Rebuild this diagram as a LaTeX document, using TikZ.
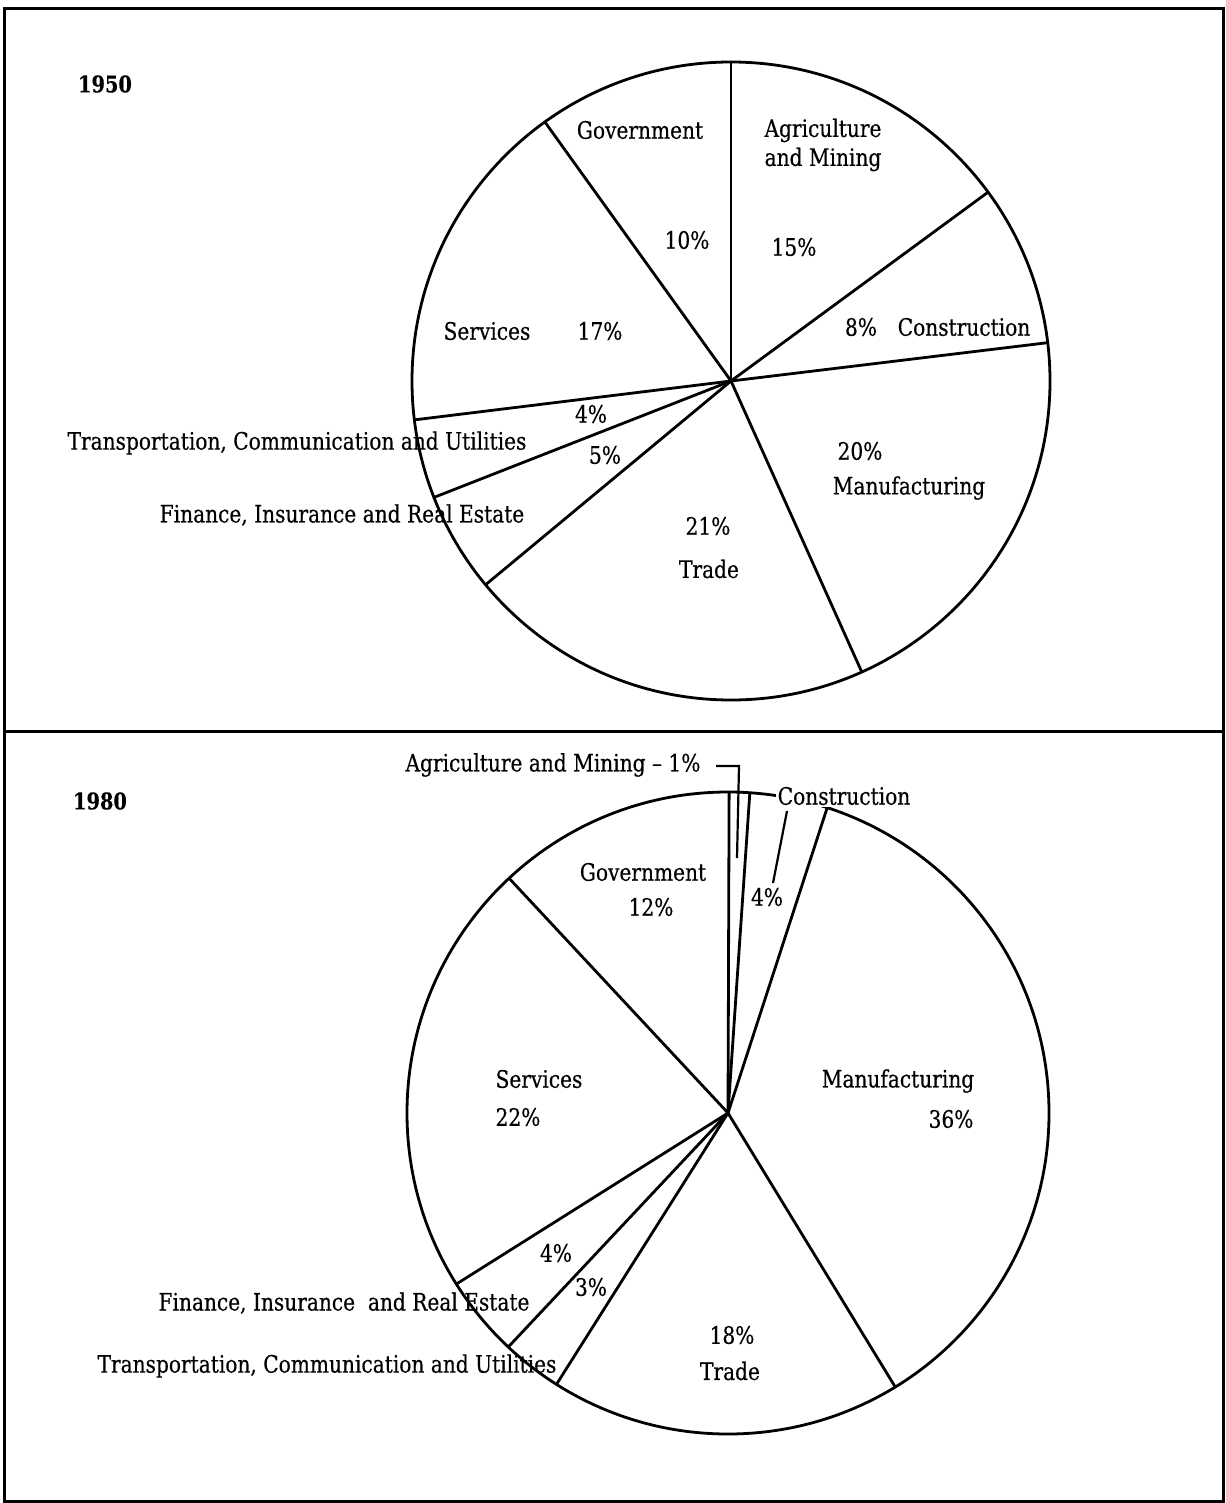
\documentclass[tikz,border=0pt]{standalone}
\usepackage{fontspec}
\setmainfont{DejaVu Serif}[FakeStretch=0.84, FakeBold=0.35]
\newcommand\lbl{\fontsize{12}{14.5}\selectfont}
\newcommand\yrfont{\fontsize{11.5}{14}\selectfont\bfseries}
\begin{document}
\begin{tikzpicture}[x=0.5pt,y=-0.5pt,
  txt/.style={font=\lbl, inner sep=0pt, anchor=center},
  yr/.style={font=\yrfont, inner sep=0pt, anchor=center},
  frame/.style={line width=1.5pt},
  pie/.style={line width=1.4pt},
  leader/.style={line width=1.1pt}]
\useasboundingbox (0,0) rectangle (1225,1503);
% frame
\draw[frame] (4,9) rectangle (1223,1501);
\draw[frame] (4,731) -- (1223,731);

% ---------- 1950 ----------
\begin{scope}[shift={(731,381)}, yscale=-1]
  \coordinate (c50) at (0,0);
  \draw[pie] (c50) circle[radius=319];
  \coordinate (p50a) at (90:319);
  \coordinate (p50b) at (36.3:319);
  \coordinate (p50c) at (6.9:319);
  \coordinate (p50d) at (-65.8:319);
  \coordinate (p50e) at (219.7:319);
  \coordinate (p50f) at (201.4:319);
  \coordinate (p50g) at (187:319);
  \coordinate (p50h) at (125.7:319);
  \foreach \p in {a,b,c,d,e,f,g,h} \draw[pie] (c50) -- (p50\p);
\end{scope}
\node[yr] (y50) at (105,84) {1950};
\node[txt] (gov50) at (640,130) {Government};
\node[txt, align=center] (agr50) at (823,145) {Agriculture\\and Mining};
\node[txt] (gp50) at (687,240) {10\%};
\node[txt] (ap50) at (794,247) {15\%};
\node[txt] (cp50) at (861,327) {8\%};
\node[txt] (con50) at (964,327) {Construction};
\node[txt] (ser50) at (487,331) {Services};
\node[txt] (sp50) at (600,331) {17\%};
\node[txt] (tp50) at (591,414) {4\%};
\node[txt] (tra50) at (297,443) {Transportation, Communication and Utilities};
\node[txt] (fp50) at (605,455) {5\%};
\node[txt] (fin50) at (342,515) {Finance, Insurance and Real Estate};
\node[txt] (mp50) at (860,451) {20\%};
\node[txt] (man50) at (909,488) {Manufacturing};
\node[txt] (trp50) at (708,526) {21\%};
\node[txt] (trd50) at (709,569) {Trade};

% ---------- 1980 ----------
\begin{scope}[shift={(728,1113)}, yscale=-1]
  \coordinate (c80) at (0,0);
  \draw[pie] (c80) circle[radius=321];
  \coordinate (p80a) at (89.8:321);
  \coordinate (p80b) at (86.1:321);
  \coordinate (p80c) at (72:321);
  \coordinate (p80d) at (-58.6:321);
  \coordinate (p80e) at (237.7:321);
  \coordinate (p80f) at (226.8:321);
  \coordinate (p80g) at (212.2:321);
  \coordinate (p80h) at (133:321);
  \foreach \p in {a,b,c,d,e,f,g,h} \draw[pie] (c80) -- (p80\p);
\end{scope}
\node[yr] (y80) at (100,801) {1980};
\node[txt] (agr80) at (553,765) {Agriculture and Mining -- 1\%};
\coordinate (agc1) at (716,766);
\coordinate (agc2) at (739,766);
\coordinate (agc3) at (737,858);
\draw[leader] (agc1) -- (agc2) -- (agc3);
\node[txt, fill=white, inner sep=1pt] (con80) at (844,796) {Construction};
\coordinate (cnc1) at (787,811);
\coordinate (cnc2) at (773,883);
\draw[leader] (cnc1) -- (cnc2);
\node[txt] (gov80) at (643,872) {Government};
\node[txt] (gp80) at (651,907) {12\%};
\node[txt] (cp80) at (767,897) {4\%};
\node[txt] (ser80) at (539,1079) {Services};
\node[txt] (sp80) at (518,1117) {22\%};
\node[txt] (man80) at (898,1081) {Manufacturing};
\node[txt] (mp80) at (951,1119) {36\%};
\node[txt] (fp80) at (556,1253) {4\%};
\node[txt] (tp80) at (591,1287) {3\%};
\node[txt] (fin80) at (344,1303) {Finance, Insurance\ \ and Real Estate};
\node[txt] (tra80) at (327,1366) {Transportation, Communication and Utilities};
\node[txt] (trp80) at (732,1335) {18\%};
\node[txt] (trd80) at (730,1371) {Trade};
\end{tikzpicture}
\end{document}
